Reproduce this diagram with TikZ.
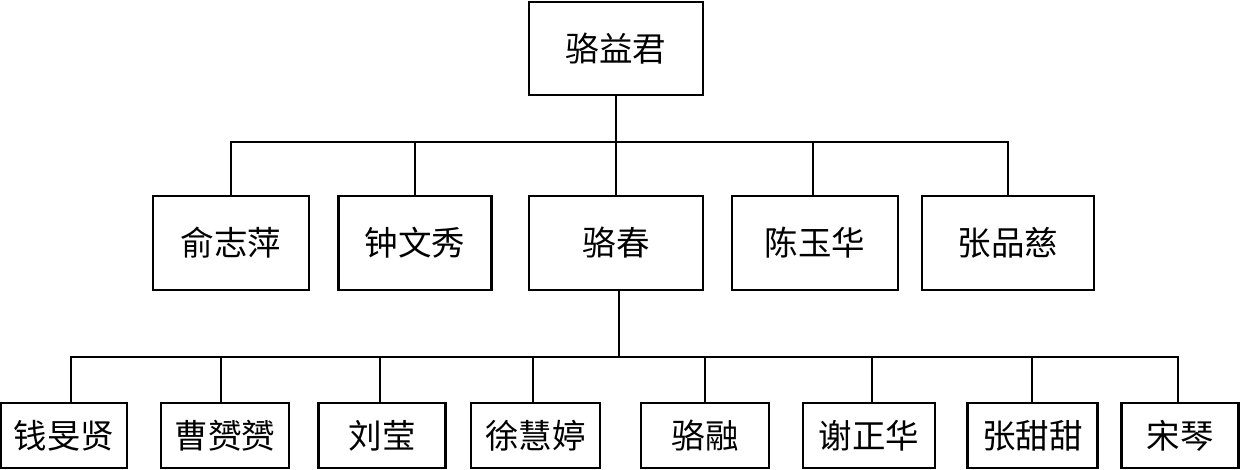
\documentclass[tikz,border=0pt]{standalone}
\usepackage{fontspec}
\newfontfamily\cjk{Noto Sans CJK SC}
\begin{document}
\begin{tikzpicture}[x=1pt,y=-1pt,
  box/.style={draw=black,line width=2.4pt,rectangle,inner sep=0pt,font=\cjk\fontsize{33.5}{36}\selectfont},
  lvtwo/.style={box,minimum height=94pt},
  lvthree/.style={box,minimum height=65pt},
  link/.style={draw=black,line width=2pt}]
\useasboundingbox (0,0) rectangle (1240,469);
% top
\node[box,minimum width=174pt,minimum height=93pt] (top) at (616,48.5) {骆益君};
% level 2
\node[lvtwo,minimum width=156pt] (a1) at (231,243) {俞志萍};
\node[lvtwo,minimum width=153pt] (a2) at (415,243) {钟文秀};
\node[lvtwo,minimum width=174pt] (a3) at (616,243) {骆春};
\node[lvtwo,minimum width=166pt] (a4) at (815,243) {陈玉华};
\node[lvtwo,minimum width=172pt] (a5) at (1008,243) {张品慈};
% level 3
\node[lvthree,minimum width=126pt] (b1) at (64,435.5) {钱旻贤};
\node[lvthree,minimum width=128pt] (b2) at (225,435.5) {曹赟赟};
\node[lvthree,minimum width=127pt] (b3) at (382,435.5) {刘莹};
\node[lvthree,minimum width=129pt] (b4) at (535.5,435.5) {徐慧婷};
\node[lvthree,minimum width=128pt] (b5) at (705,435.5) {骆融};
\node[lvthree,minimum width=132pt] (b6) at (869,435.5) {谢正华};
\node[lvthree,minimum width=130pt] (b7) at (1032.5,435.5) {张甜甜};
\node[lvthree,minimum width=117pt] (b8) at (1180,435.5) {宋琴};
% bus coordinates
\coordinate (busA) at (616,142);
\coordinate (busB) at (619,357);
\coordinate (d1) at (71,357);
\coordinate (d2) at (220.6,357);
\coordinate (d3) at (379.6,357);
\coordinate (d4) at (533,357);
\coordinate (d5) at (705.4,357);
\coordinate (d6) at (872,357);
\coordinate (d7) at (1032.4,357);
\coordinate (d8) at (1177.5,357);
\coordinate (e4) at (813,142);
% links level 1-2
\draw[link] (top.south) -- (busA);
\draw[link] (a1.north) |- (busA) -| (a5.north);
\draw[link] (a2.north) -- (a2.north |- busA);
\draw[link] (a3.north) -- (busA);
\draw[link] (e4) -- (e4 |- a4.north);
% links level 2-3
\draw[link] (a3.south -| busB) -- (busB);
\draw[link] (d1 |- b1.north) -- (d1) -- (d8) -- (d8 |- b8.north);
\draw[link] (d2) -- (d2 |- b2.north);
\draw[link] (d3) -- (d3 |- b3.north);
\draw[link] (d4) -- (d4 |- b4.north);
\draw[link] (d5) -- (d5 |- b5.north);
\draw[link] (d6) -- (d6 |- b6.north);
\draw[link] (d7) -- (d7 |- b7.north);
\end{tikzpicture}
\end{document}
